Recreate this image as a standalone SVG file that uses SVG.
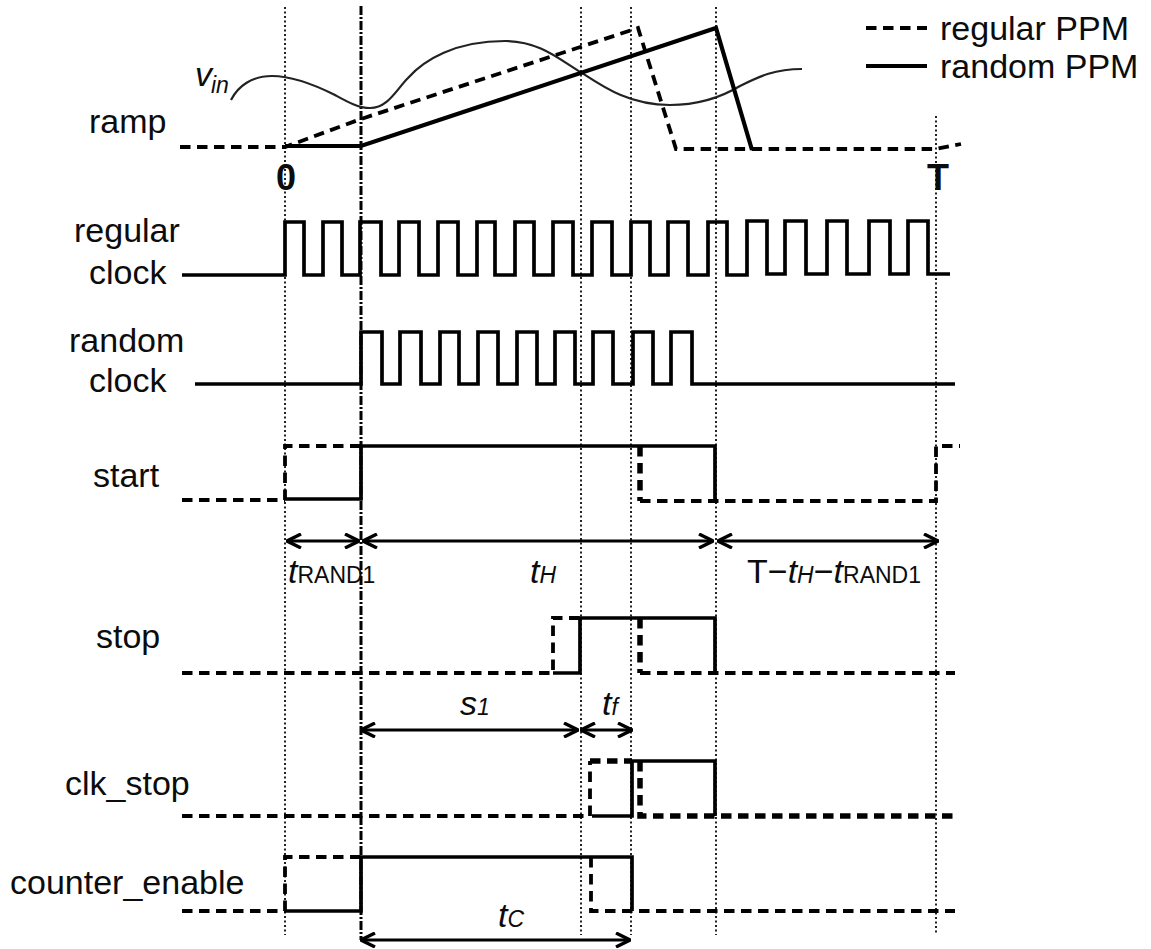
<svg xmlns="http://www.w3.org/2000/svg" width="1151" height="949" viewBox="0 0 1151 949">
<style>
text{font-family:"Liberation Sans",Arial,sans-serif;font-size:34px;fill:#0c0c0c}
.i{font-style:italic}
.b{font-weight:bold;font-size:36px}
.s{font-size:23px}
path{fill:none;stroke:#000;stroke-linejoin:miter}
.solid{stroke-width:3.7}
.ramp{stroke-width:4.2}
.dash{stroke-width:3.8;stroke-dasharray:10.5 6.5}
.thick{stroke-width:5.5;stroke-dasharray:10.5 6.5}
.thin{stroke-width:2.2;stroke:#222}
.guide{stroke-width:2;stroke-dasharray:2 2.5;stroke:#222}
.guide2{stroke-width:3;stroke-dasharray:9 2 2 2}
.arrow{stroke-width:3;marker-start:url(#a);marker-end:url(#a)}
</style>
<defs>
<marker id="a" viewBox="0 0 16 16" refX="15" refY="8" markerUnits="userSpaceOnUse" markerWidth="16" markerHeight="16" orient="auto-start-reverse">
<path d="M1 1L15 8L1 15" style="stroke-width:3.4;stroke:#000;fill:none"/>
</marker>
</defs>
<rect width="1151" height="949" fill="#fff"/>
<g id="guides">
<path class="guide" d="M285 7V935"/>
<path class="guide2" d="M361 6V940"/>
<path class="guide" d="M581 7V935"/>
<path class="guide" d="M631 7V935"/>
<path class="guide" d="M716 7V935"/>
<path class="guide" d="M936 116V935"/>
</g>
<g id="legend">
<path class="dash" d="M866 28H927"/>
<path class="ramp" d="M866 66H927"/>
<text x="940" y="40">regular PPM</text>
<text x="940" y="78">random PPM</text>
</g>
<g id="ramp">
<text x="89" y="133">ramp</text>
<path class="thin" d="M231 100C238 86 252 76 272 76C293 76 315 85 335 95C346 101 358 108 370 108C388 108 396 90 408 78C424 60 455 41 505 41C540 41 560 60 582 73C605 88 630 105 670 105C695 105 720 98 740 86C760 76 775 69 802 69"/>
<text class="i" x="195" y="86">v</text><text class="i s" x="211" y="93">in</text>
<path class="dash" d="M180 147H285L361 119L638 28L676 149H936L961 144"/>
<path class="ramp" d="M285 146H361L716 28L752 150"/>
<text class="b" x="276" y="190">0</text>
<text class="b" x="927" y="190">T</text>
</g>
<g id="regular-clock">
<text x="74" y="242">regular</text>
<text x="89" y="284">clock</text>
<path class="solid" d="M182 275H285V222H304V275H323V222H342V275H360V222H381V275H399V222H419V275H438V222H458V275H477V222H495V275H515V222H534V275H553V222H573V275H592V222H612V275H631V222H650V275H668V222H688V275H708V222H727V275H747V221H767V274H785V221H806V274H827V221H847V274H869V221H890V274H908V221H928V274H950"/>
</g>
<g id="random-clock">
<text x="69" y="352">random</text>
<text x="89" y="392">clock</text>
<path class="solid" d="M195 384H361V332H382V384H400V332H421V384H440V332H459V384H478V332H498V384H517V332H537V384H555V332H575V384H593V332H613V384H633V332H653V384H671V332H692V384H955"/>
</g>
<g id="start">
<text x="93" y="487">start</text>
<path class="dash" d="M182 500H285M285 500V446H361"/>
<path class="solid" d="M285 499H361V446H715V500"/>
<path class="thick" d="M640 446V501"/>
<path class="dash" d="M640 501H936V446H960"/>
</g>
<g id="stop">
<text x="96" y="648">stop</text>
<path class="dash" d="M182 673H553V618H581"/>
<path class="solid" d="M553 673H580V618H715V673"/>
<path class="thick" d="M640 618V673"/>
<path class="dash" d="M640 673H955"/>
</g>
<g id="clk_stop">
<text x="65" y="795">clk_stop</text>
<path class="dash" d="M182 816H590"/>
<path class="dash" d="M590 816V761"/>
<path class="thick" d="M590 761H632"/>
<path class="solid" d="M592 816H632V761H715V816"/>
<path class="thick" d="M640 761V816H955"/>
</g>
<g id="counter_enable">
<text x="10" y="894">counter_enable</text>
<path class="dash" d="M182 911H285M285 911V857H361M591 857V911H955"/>
<path class="solid" d="M285 911H361V857H632V911"/>
</g>
<g id="connectors">
<path class="arrow" d="M287 541H359"/>
<path class="arrow" d="M363 541H713"/>
<path class="arrow" d="M718 541H938"/>
<path class="arrow" d="M361 730H578"/>
<path class="arrow" d="M581 730H632"/>
<path class="arrow" d="M361 940H630"/>
</g>
<g id="labels">
<text x="288" y="583"><tspan class="i">t</tspan><tspan class="s">RAND1</tspan></text>
<text x="530" y="583"><tspan class="i">t</tspan><tspan class="i s">H</tspan></text>
<text x="747" y="583">T−<tspan class="i">t</tspan><tspan class="i s">H</tspan>−<tspan class="i">t</tspan><tspan class="s">RAND1</tspan></text>
<text x="460" y="715"><tspan class="i">s</tspan><tspan class="i s">1</tspan></text>
<text x="602" y="715"><tspan class="i">t</tspan><tspan class="i s">f</tspan></text>
<text x="498" y="927"><tspan class="i">t</tspan><tspan class="i s">C</tspan></text>
</g>
</svg>
